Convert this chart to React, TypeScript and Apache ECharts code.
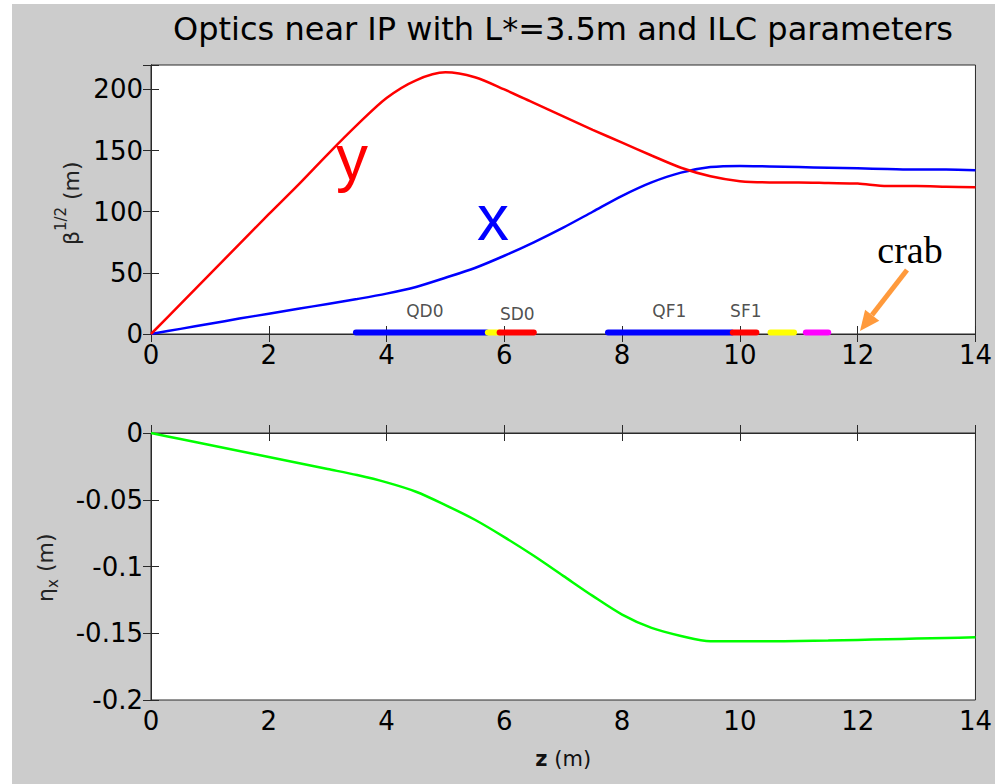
import React, { useEffect, useRef } from 'react';
import * as echarts from 'echarts';

// longitudinal position (m)
const zPos = [0, 0.5, 1, 1.5, 2, 2.5, 3, 3.5, 4, 4.5, 5, 5.5, 6, 6.5, 7, 7.5, 8, 8.5, 9, 9.5, 10, 10.5, 11, 11.5, 12, 12.5, 13, 13.5, 14];
// sqrt(beta) vertical (red, "y")
const betaY = [0, 24.5, 49, 73.5, 98, 122, 147, 171, 193, 207.5, 214, 210, 200, 189, 178, 167, 156.5, 146, 136, 129, 125, 124, 124, 123.5, 123, 121, 121, 120.5, 120];
// sqrt(beta) horizontal (blue, "x")
const betaX = [0, 4.2, 8.4, 12.6, 16.6, 20.6, 24.6, 28.6, 33, 38.5, 46, 54, 64, 75, 87, 100, 113, 124, 132, 136.5, 137.5, 137, 136.5, 136, 135.5, 135, 134.5, 134.5, 134];
// horizontal dispersion (green)
const etaX = [0, -0.0045, -0.009, -0.0135, -0.018, -0.0225, -0.027, -0.0315, -0.037, -0.044, -0.054, -0.065, -0.078, -0.092, -0.107, -0.122, -0.136, -0.146, -0.152, -0.156, -0.156, -0.156, -0.1558, -0.1555, -0.155, -0.1545, -0.154, -0.1535, -0.153];

// beamline elements drawn along the axis
const elemStart = [3.48, 5.72, 5.92, 7.76, 9.88, 10.52, 11.12];
const elemEnd = [5.7, 5.92, 6.5, 9.86, 10.28, 10.92, 11.5];
const elemColor = ['#0000ff', '#ffff00', '#ff0000', '#0000ff', '#ff0000', '#ffff00', '#ff00ff'];
const elemLevel = 1.3;

const elemLabels = ['QD0', 'SD0', 'QF1', 'SF1'];
const elemLabelZ = [4.65, 6.22, 8.8, 10.1];
const elemLabelV = [19, 16.5, 19, 18.5];

const zTicks = { min: 0, max: 14, interval: 2 };
const betaTicks = { min: 0, max: 220, interval: 50 };
const etaTicks = { min: -0.2, max: 0, interval: 0.05 };

const FONT = 'DejaVu Sans';
const BORDER = '#2a2a2a';

export default function App() {
  const ref = useRef<HTMLDivElement>(null);
  useEffect(() => {
    const chart = echarts.init(ref.current!, null, { renderer: 'svg' });

    const baseX = (grid: number, pos: 'bottom' | 'top', labels: boolean, extra: any = {}) => ({
      type: 'value', gridIndex: grid, position: pos, ...zTicks,
      axisLine: { show: true, lineStyle: { color: BORDER, width: 1 } },
      axisTick: { show: true, inside: true, length: 8, lineStyle: { color: BORDER } },
      axisLabel: { show: labels, fontFamily: FONT, fontSize: 26, color: '#000', margin: 8 },
      splitLine: { show: false },
      ...extra,
    });
    const baseY = (grid: number, pos: 'left' | 'right', labels: boolean, ticks: any, fmt?: any) => ({
      type: 'value', gridIndex: grid, position: pos, ...ticks,
      axisLine: { show: true, lineStyle: { color: BORDER, width: 1 } },
      axisTick: { show: true, inside: true, length: 8, lineStyle: { color: BORDER } },
      axisLabel: { show: labels, fontFamily: FONT, fontSize: 26, color: '#000', margin: 8, formatter: fmt },
      splitLine: { show: false },
    });

    const elemSeries = elemStart.map((s, i) => ({
      type: 'line', xAxisIndex: 0, yAxisIndex: 0, silent: true,
      data: [[s, elemLevel], [elemEnd[i], elemLevel]],
      showSymbol: false,
      lineStyle: { color: elemColor[i], width: 6, cap: 'round' },
      z: 5,
    }));

    chart.setOption({
      animation: false,
      backgroundColor: '#ffffff',
      grid: [
        { left: 151, top: 65, width: 825, height: 269, show: true, backgroundColor: '#ffffff', borderColor: BORDER, borderWidth: 1, containLabel: false },
        { left: 151, top: 433, width: 826, height: 267, show: true, backgroundColor: '#ffffff', borderColor: BORDER, borderWidth: 1, containLabel: false },
      ],
      xAxis: [
        baseX(0, 'bottom', true),
        baseX(0, 'top', false),
        baseX(1, 'bottom', true, {
          name: '{b|z} (m)', nameLocation: 'middle', nameGap: 48,
          nameTextStyle: { fontFamily: FONT, fontSize: 21, color: '#111', rich: { b: { fontFamily: FONT, fontSize: 21, fontWeight: 'bold', color: '#111' } } },
        }),
        baseX(1, 'top', false),
      ],
      yAxis: [
        baseY(0, 'left', true, betaTicks, (v: number) => (v % 50 === 0 ? String(v) : '')),
        baseY(0, 'right', false, betaTicks),
        baseY(1, 'left', true, etaTicks),
        baseY(1, 'right', false, etaTicks),
      ],
      series: [
        {
          type: 'line', xAxisIndex: 0, yAxisIndex: 0, smooth: 0.3, showSymbol: false,
          data: zPos.map((z, i) => [z, betaX[i]]),
          lineStyle: { color: '#0000ff', width: 2.5 }, z: 3,
        },
        {
          type: 'line', xAxisIndex: 0, yAxisIndex: 0, smooth: 0.3, showSymbol: false,
          data: zPos.map((z, i) => [z, betaY[i]]),
          lineStyle: { color: '#ff0000', width: 2.5 }, z: 4,
        },
        ...elemSeries,
        {
          type: 'scatter', xAxisIndex: 0, yAxisIndex: 0, symbolSize: 0, silent: true,
          data: elemLabels.map((n, i) => ({ name: n, value: [elemLabelZ[i], elemLabelV[i]] })),
          label: { show: true, position: 'inside', formatter: '{b}', fontFamily: FONT, fontSize: 17, color: '#222' },
          z: 6,
        },
        {
          type: 'line', xAxisIndex: 2, yAxisIndex: 2, smooth: 0.3, showSymbol: false,
          data: zPos.map((z, i) => [z, etaX[i]]),
          lineStyle: { color: '#00ff00', width: 2.5 },
        },
      ],
      graphic: [
        { type: 'rect', z: -100, shape: { x: 12, y: 4, width: 983, height: 780 }, style: { fill: '#cccccc' } },
        {
          type: 'text', x: 563, y: 29,
          style: { text: 'Optics near IP with L*=3.5m and ILC parameters', fontFamily: FONT, fontSize: 32, fill: '#000', textAlign: 'center', textVerticalAlign: 'middle' },
        },
        // y-axis name, top panel
        {
          type: 'group', x: 71, y: 200, rotation: Math.PI / 2,
          children: [
            { type: 'text', x: -45, y: 0, style: { text: 'β', fontFamily: FONT, fontSize: 22, fill: '#222', textAlign: 'left', textVerticalAlign: 'middle' } },
            { type: 'text', x: -31, y: -10, style: { text: '1/2', fontFamily: FONT, fontSize: 15, fill: '#222', textAlign: 'left', textVerticalAlign: 'middle' } },
            { type: 'text', x: 0, y: 0, style: { text: '(m)', fontFamily: FONT, fontSize: 22, fill: '#222', textAlign: 'left', textVerticalAlign: 'middle' } },
          ],
        },
        // y-axis name, bottom panel
        {
          type: 'group', x: 45, y: 568, rotation: Math.PI / 2,
          children: [
            { type: 'text', x: -34, y: 0, style: { text: 'η', fontFamily: FONT, fontSize: 22, fill: '#222', textAlign: 'left', textVerticalAlign: 'middle' } },
            { type: 'text', x: -20, y: 8, style: { text: 'x', fontFamily: FONT, fontSize: 15, fill: '#222', textAlign: 'left', textVerticalAlign: 'middle' } },
            { type: 'text', x: -4, y: 0, style: { text: '(m)', fontFamily: FONT, fontSize: 22, fill: '#222', textAlign: 'left', textVerticalAlign: 'middle' } },
          ],
        },
        { type: 'text', x: 352, y: 158, style: { text: 'y', fontFamily: 'Liberation Sans', fontSize: 64, fill: '#ff0000', textAlign: 'center', textVerticalAlign: 'middle' } },
        { type: 'text', x: 493, y: 218, style: { text: 'x', fontFamily: 'Liberation Sans', fontSize: 64, fill: '#0000ff', textAlign: 'center', textVerticalAlign: 'middle' } },
        { type: 'text', x: 910, y: 250, style: { text: 'crab', fontFamily: 'Liberation Serif', fontSize: 38, fill: '#000', textAlign: 'center', textVerticalAlign: 'middle' } },
        { type: 'line', shape: { x1: 907, y1: 270, x2: 872, y2: 315 }, style: { stroke: '#ff9a3c', lineWidth: 5 } },
        { type: 'polygon', shape: { points: [[860, 331], [879.3, 320.7], [865.1, 309.7]] }, style: { fill: '#ff9a3c' } },
      ],
    });
    return () => chart.dispose();
  }, []);
  return <div ref={ref} style={{ position: 'fixed', left: 0, top: 0, width: 995, height: 784, background: '#fff' }} />;
}
